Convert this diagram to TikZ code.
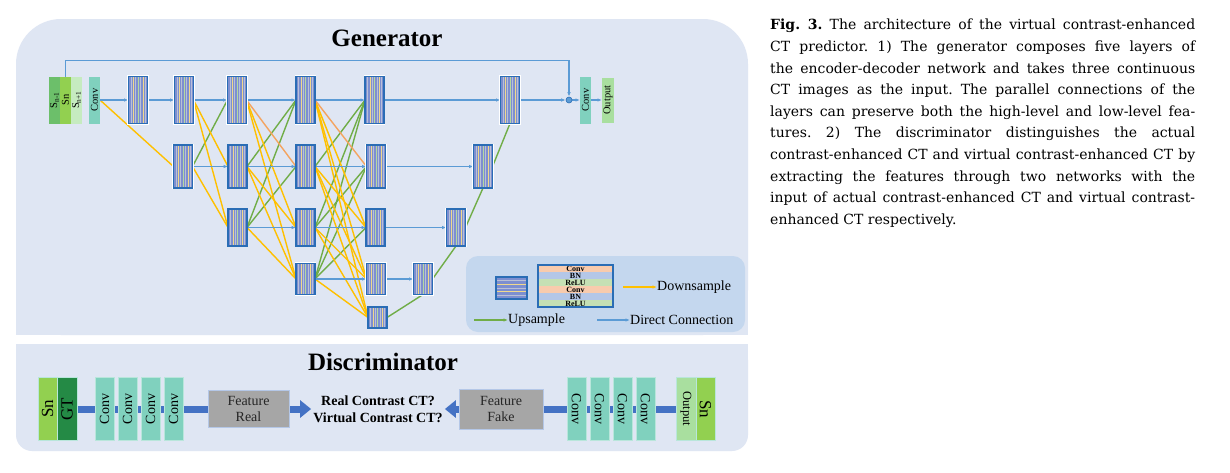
\documentclass[tikz,border=0pt]{standalone}
\usepackage{graphicx}
\usepackage{fontspec}
\setmainfont{Liberation Serif}
\newfontfamily\capfont{DejaVu Serif}
\usetikzlibrary{arrows.meta,calc}
\pgfdeclarelayer{back}
\pgfdeclarelayer{lines}
\pgfsetlayers{back,lines,main}
\definecolor{panelc}{HTML}{DFE6F3}
\definecolor{legc}{HTML}{C4D7EE}
\definecolor{blc}{HTML}{5B9BD5}
\definecolor{ylc}{HTML}{FFC000}
\definecolor{grc}{HTML}{70AD47}
\definecolor{ogc}{HTML}{F4A460}
\definecolor{fborder}{HTML}{2A6DB5}
\definecolor{ffill}{HTML}{7D8FD0}
\definecolor{sgray}{HTML}{B9C0D8}
\definecolor{syel}{HTML}{F0D98C}
\definecolor{sgrn}{HTML}{B5D9A0}
\definecolor{bgrn}{HTML}{C5E0B4}
\definecolor{snm}{HTML}{6CBF6A}
\definecolor{snc}{HTML}{92D050}
\definecolor{snp}{HTML}{C6EBC0}
\definecolor{convc}{HTML}{80D1BE}
\definecolor{outc}{HTML}{A9DF9F}
\definecolor{gtc}{HTML}{248A45}
\definecolor{dblue}{HTML}{4472C4}
\definecolor{featg}{HTML}{A6A6A6}
\definecolor{featb}{HTML}{B4C7E7}
\definecolor{peach}{HTML}{F8CBAD}
\definecolor{lav}{HTML}{B4C7E7}
\newcommand\vstripes{\foreach \i/\c in {1/sgray,2/syel,3/sgray,4/sgrn,5/sgray,6/syel,7/sgray}{\draw[\c, line width=0.5pt] ($(path picture bounding box.south west)!\i/8!(path picture bounding box.south east)$) -- ($(path picture bounding box.north west)!\i/8!(path picture bounding box.north east)$);}}
\newcommand\hstripes{\foreach \i/\c in {1/sgray,2/syel,3/sgray,4/syel,5/sgray}{\draw[\c, line width=0.8pt] ($(path picture bounding box.north west)!\i/6!(path picture bounding box.south west)$) -- ($(path picture bounding box.north east)!\i/6!(path picture bounding box.south east)$);}}
\begin{document}
\begin{tikzpicture}[x=1pt,y=-1pt,
 feat/.style={draw=fborder, line width=1.5pt, fill=ffill, minimum width=19pt, inner sep=0pt, outer sep=0pt, preaction={draw=white, line width=2.8pt}, path picture={\vstripes}},
 fh1/.style={minimum height=47pt}, fh2/.style={minimum height=43pt}, fh3/.style={minimum height=37pt}, fh4/.style={minimum height=31pt}, fh5/.style={minimum height=21pt},
 gbar/.style={minimum width=11pt, minimum height=47pt, inner sep=0pt, outer sep=0pt, font=\fontsize{10.5}{10.5}\selectfont},
 dbox/.style={minimum width=19pt, minimum height=63pt, inner sep=0pt, outer sep=0pt, draw=white!45!convc, line width=0.6pt},
 bl/.style={draw=blc, line width=1.4pt, -{Latex[length=4.5pt,width=3.5pt]}},
 yl/.style={draw=ylc, line width=1.4pt},
 gr/.style={draw=grc, line width=1.4pt},
 og/.style={draw=ogc, line width=1.4pt},
 dline/.style={draw=dblue, line width=7pt},
 darrow/.style={draw=dblue, line width=7pt, -{Triangle[length=11pt,width=17pt]}},
 featbox/.style={fill=featg, draw=featb, line width=1pt, inner sep=0pt, align=center, font=\fontsize{14}{16}\selectfont, text=black!85},
 band/.style={minimum width=75pt, minimum height=7pt, inner sep=0pt, font=\fontsize{8}{8}\selectfont\bfseries},
 legtext/.style={anchor=west, inner sep=0pt, font=\fontsize{14}{14}\selectfont},
 gtitle/.style={font=\fontsize{25}{25}\selectfont\bfseries}
]
\useasboundingbox (0,0) rectangle (1230,472);
\begin{pgfonlayer}{back}
\fill[white] (0,0) rectangle (1230,472);
\fill[panelc, rounded corners=45pt] (16,19) rectangle (748,335);
\fill[panelc] (16,150) rectangle (748,335);
\fill[panelc, rounded corners=16pt] (16,344) rectangle (748,451);
\fill[panelc] (16,344) rectangle (748,400);
\fill[legc, rounded corners=12pt] (466,256) rectangle (745,332);
\end{pgfonlayer}

% titles
\node[gtitle] (gen) at (387,38) {Generator};
\node[gtitle] (dis) at (383,362) {Discriminator};

% generator inputs
\node[gbar, fill=snm] (snm) at (54.5,100) {\rotatebox{90}{S\textsubscript{n-1}}};
\node[gbar, fill=snc] (sn) at (65.5,100) {\rotatebox{90}{Sn}};
\node[gbar, fill=snp] (snp) at (76.5,100) {\rotatebox{90}{S\textsubscript{n+1}}};
\node[gbar, fill=convc] (gconv) at (94.5,100) {\rotatebox{90}{Conv}};

% feature blocks
\node[feat, fh1] (B1) at (138,100) {};
\node[feat, fh1] (B2) at (184,100) {};
\node[feat, fh1] (B3) at (237,100) {};
\node[feat, fh1] (B4) at (305.5,100) {};
\node[feat, fh1] (B5) at (374.5,100) {};
\node[feat, fh2] (C1) at (183,166.5) {};
\node[feat, fh2] (C2) at (237.5,166.5) {};
\node[feat, fh2] (C3) at (305.5,166.5) {};
\node[feat, fh2] (C4) at (376,166.5) {};
\node[feat, fh3] (D1) at (237.5,227.5) {};
\node[feat, fh3] (D2) at (305.5,227.5) {};
\node[feat, fh3] (D3) at (375.5,227.5) {};
\node[feat, fh4] (E1) at (305.5,279) {};
\node[feat, fh4] (E2) at (376,279) {};
\node[feat, fh5] (F1) at (377.5,317.5) {};
\node[feat, fh1] (R1) at (510,100) {};
\node[feat, fh2] (R2) at (483,166.5) {};
\node[feat, fh3] (R3) at (456,227.5) {};
\node[feat, fh4] (R4) at (423,279) {};

\node[circle, draw=fborder, fill=blc, minimum size=6pt, inner sep=0pt, line width=0.6pt] (circ) at (569,100) {};
\node[gbar, fill=convc] (gconv2) at (585.5,100) {\rotatebox{90}{Conv}};
\node[gbar, fill=outc, minimum width=12pt, minimum height=45pt] (gout) at (608,100) {\rotatebox{90}{Output}};

\begin{pgfonlayer}{lines}
\foreach \s/\t in {C1/B3, C2/B4, D1/B4, D1/C3, C3/B5, D2/B5, D2/C4, E1/B5, E1/C4, E1/D3}
  \draw[gr] (\s.east) -- (\t.west);
\draw[yl] (gconv.east) -- (C1.west);
\foreach \s/\t in {B2/C2, B2/D1, C1/D1, B3/D2, B3/E1, C2/D2, C2/E1, D1/E1, B4/D3, B4/E2, B4/F1, C3/D3, C3/E2, C3/F1, D2/E2, D2/F1, E1/F1}
  \draw[yl] (\s.east) -- (\t.west);
\foreach \s/\t in {B3/C3, B4/C4}
  \draw[og] (\s.east) -- (\t.west);
\draw[bl] (gconv.east) -- (B1.west);
\foreach \s/\t in {B1/B2, B2/B3, C1/C2, B3/B4, C2/C3, D1/D2, B4/B5, C3/C4, D2/D3, E1/E2, B5/R1, C4/R2, D3/R3, E2/R4}
  \draw[bl] (\s.east) -- (\t.west);
\draw[gr] (F1.east) -- (R4.south);
\draw[gr] (R4.east) -- (R3.south);
\draw[gr] (R3.east) -- (R2.south);
\draw[gr] (R2.east) -- (R1.south);
\draw[bl] (R1.east) -- (circ.west);
\draw[bl] (circ.east) -- (gconv2.west);
\draw[bl] (gconv2.east) -- (gout.west);
\draw[bl] (sn.north) -- ++(0,-16) -| (circ.north);
\end{pgfonlayer}

% legend
\node[draw=fborder, line width=1.5pt, fill=ffill, minimum width=31pt, minimum height=22pt, inner sep=0pt, path picture={\hstripes}] (legsmall) at (511.5,288) {};
\node[band, fill=peach] (lb1) at (575.5,268.5) {Conv};
\node[band, fill=lav] (lb2) at (575.5,275.5) {BN};
\node[band, fill=bgrn] (lb3) at (575.5,282.5) {ReLU};
\node[band, fill=peach] (lb4) at (575.5,289.5) {Conv};
\node[band, fill=lav] (lb5) at (575.5,296.5) {BN};
\node[band, fill=bgrn] (lb6) at (575.5,303.5) {ReLU};
\node[draw=fborder, line width=1.8pt, minimum width=75pt, minimum height=42pt, inner sep=0pt] (legbig) at (575.5,286) {};
\coordinate (dsA) at (623,287);
\node[legtext] (dsT) at (657,287) {Downsample};
\draw[draw=ylc, line width=1.4pt, -{Latex[length=4.5pt,width=3.5pt]}] (dsA) -- (dsT.west);
\coordinate (usA) at (474,320);
\node[legtext] (usT) at (508,320) {Upsample};
\draw[draw=grc, line width=1.4pt, -{Latex[length=4.5pt,width=3.5pt]}] (usA) -- (usT.west);
\coordinate (dcA) at (597,320);
\node[legtext] (dcT) at (630,320) {Direct Connection};
\draw[bl] (dcA) -- (dcT.west);

% discriminator
\node[dbox, fill=snc, font=\fontsize{17}{17}\selectfont] (dSn) at (47.5,409) {\rotatebox{90}{Sn}};
\node[dbox, fill=gtc, minimum width=20pt, font=\fontsize{17}{17}\selectfont] (dGT) at (67,409) {\rotatebox{90}{GT}};
\node[dbox, fill=convc, font=\fontsize{14}{14}\selectfont] (dC1) at (104.5,409) {\rotatebox{90}{Conv}};
\node[dbox, fill=convc, font=\fontsize{14}{14}\selectfont] (dC2) at (127.5,409) {\rotatebox{90}{Conv}};
\node[dbox, fill=convc, font=\fontsize{14}{14}\selectfont] (dC3) at (150.5,409) {\rotatebox{90}{Conv}};
\node[dbox, fill=convc, font=\fontsize{14}{14}\selectfont] (dC4) at (173.5,409) {\rotatebox{90}{Conv}};
\node[featbox, minimum width=81pt, minimum height=37pt] (fReal) at (248.5,409) {Feature\\Real};
\node[align=center, inner sep=2pt, font=\fontsize{14}{17}\selectfont\bfseries] (question) at (378,409) {Real Contrast CT?\\Virtual Contrast CT?};
\node[featbox, minimum width=84pt, minimum height=40pt] (fFake) at (501,409) {Feature\\Fake};
\node[dbox, fill=convc, font=\fontsize{14}{14}\selectfont] (dC5) at (576.5,409) {\rotatebox{-90}{Conv}};
\node[dbox, fill=convc, font=\fontsize{14}{14}\selectfont] (dC6) at (599.5,409) {\rotatebox{-90}{Conv}};
\node[dbox, fill=convc, font=\fontsize{14}{14}\selectfont] (dC7) at (622.5,409) {\rotatebox{-90}{Conv}};
\node[dbox, fill=convc, font=\fontsize{14}{14}\selectfont] (dC8) at (645.5,409) {\rotatebox{-90}{Conv}};
\node[dbox, fill=outc, minimum width=20pt, font=\fontsize{12.5}{12.5}\selectfont] (dOut) at (686,409) {\rotatebox{-90}{Output}};
\node[dbox, fill=snc, font=\fontsize{17}{17}\selectfont] (dSn2) at (705.5,409) {\rotatebox{-90}{Sn}};
\begin{pgfonlayer}{lines}
\draw[dline] (dGT.east) -- (fReal.west);
\draw[dline] (dOut.west) -- (fFake.east);
\draw[darrow] (fReal.east) -- (question.west);
\draw[darrow] (fFake.west) -- (question.east);
\end{pgfonlayer}

% caption
\node[anchor=north west, inner sep=0pt, align=left, font=\capfont\fontsize{14}{21.6}\selectfont\frenchspacing] (caption) at (770,19) {%
\makebox[425pt][s]{\textbf{Fig. 3.} The architecture of the virtual contrast-enhanced}\\
\makebox[425pt][s]{CT predictor. 1) The generator composes five layers of}\\
\makebox[425pt][s]{the encoder-decoder network and takes three continuous}\\
\makebox[425pt][s]{CT images as the input. The parallel connections of the}\\
\makebox[425pt][s]{layers can preserve both the high-level and low-level fea-}\\
\makebox[425pt][s]{tures. 2) The discriminator distinguishes the actual}\\
\makebox[425pt][s]{contrast-enhanced CT and virtual contrast-enhanced CT by}\\
\makebox[425pt][s]{extracting the features through two networks with the}\\
\makebox[425pt][s]{input of actual contrast-enhanced CT and virtual contrast-}\\
\makebox[425pt][l]{enhanced CT respectively.}};
\end{tikzpicture}
\end{document}
